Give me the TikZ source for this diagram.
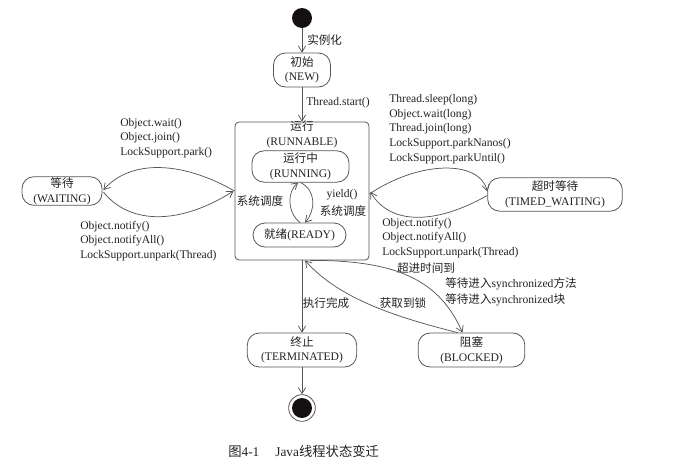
\documentclass[tikz,border=0pt]{standalone}
\usepackage{fontspec}
\setmainfont{Liberation Serif}
\newfontfamily\cjk{Noto Sans CJK SC}
\usetikzlibrary{arrows.meta,calc}
\newcommand\myfs{\fontsize{8.7}{11}\selectfont}
\definecolor{linec}{HTML}{555555}
\definecolor{textc}{HTML}{222222}
\definecolor{fillc}{HTML}{151010}
\tikzset{
  st/.style={draw=linec, line width=0.6pt, rounded corners=9pt, align=center, inner sep=0pt, font=\myfs, text=textc},
  arr/.style={draw=linec, line width=0.55pt, -{Straight Barb[length=4.5pt,width=5.5pt]}},
  lbl/.style={font=\myfs, text=textc, inner sep=0pt},
  lblb/.style={font=\myfs, text=textc, inner sep=0pt, align=left},
}
\begin{document}
\begin{tikzpicture}[x=0.75pt,y=-0.75pt]
\useasboundingbox (0,0) rectangle (675,468);
% start
\node (start) [circle, fill=fillc, minimum size=15pt, inner sep=0pt] at (302,18) {};
% states
\node (new) [st, minimum width=42.75pt, minimum height=25.5pt] at (302,70) {{\cjk 初始}\\(NEW)};
\node (runnable) [draw=linec, line width=0.6pt, rounded corners=3pt, minimum width=100.5pt, minimum height=103.5pt, inner sep=0pt] at (302,191) {};
\node (runlbl) [lblb, align=center] at (302,134.5) {{\cjk 运行}\\(RUNNABLE)};
\node (running) [st, minimum width=72.75pt, minimum height=23.5pt] at (300.5,166.5) {{\cjk 运行中}\\(RUNNING)};
\node (ready) [st, minimum width=69.75pt, minimum height=18pt] at (299.5,235) {{\cjk 就绪}(READY)};
\node (waiting) [st, minimum width=60pt, minimum height=21.5pt] at (62,191) {{\cjk 等待}\\(WAITING)};
\node (timed) [st, minimum width=101pt, minimum height=25pt] at (555,194.5) {{\cjk 超时等待}\\(TIMED\_WAITING)};
\node (term) [st, minimum width=82pt, minimum height=25.5pt] at (302,350) {{\cjk 终止}\\(TERMINATED)};
\node (blocked) [st, minimum width=80pt, minimum height=25.5pt] at (471.5,350) {{\cjk 阻塞}\\(BLOCKED)};
% end
\node (end) [circle, draw=linec, line width=0.6pt, minimum size=20pt, inner sep=0pt] at (302,408) {};
\node (endin) [circle, fill=fillc, minimum size=15pt, inner sep=0pt] at (end) {};

% connectors
\draw[arr] (start) -- (new);
\node[lbl, anchor=west] (l1) at (307,40) {\cjk 实例化};
\draw[arr] (new) -- (runnable);
\node[lbl, anchor=west] (l2) at (306,103) {Thread.start()};

% loop inside runnable
\draw[arr] ($(ready.north)+(0.5,0)$) .. controls (287,212) and (287,192) .. ($(running.south)+(-2.5,0)$);
\draw[arr] ($(running.south)+(0,0)$) .. controls (316,190) and (316,210) .. ($(ready.north)+(5.5,0)$);
\node[lbl] (l3) at (260,201) {\cjk 系统调度};
\node[lbl] (l4) at (342,195) {yield()};
\node[lbl] (l5) at (343,211) {\cjk 系统调度};

% waiting
\draw[arr] (runnable.west) .. controls (180,160) and (130,160) .. ($(waiting.east)+(1,-1)$);
\draw[arr] ($(waiting.east)+(1,1)$) .. controls (130,225) and (180,225) .. ($(runnable.west)+(-1,0)$);
\node[lblb, anchor=west] (l6) at (120,138) {Object.wait()\\Object.join()\\LockSupport.park()};
\node[lblb, anchor=west] (l7) at (80,241) {Object.notify()\\Object.notifyAll()\\LockSupport.unpark(Thread)};

% timed waiting
\draw[arr] ($(runnable.east)+(0,3)$) .. controls (420,160) and (480,160) .. ($(timed.west)+(0,-3)$);
\draw[arr] ($(timed.west)+(0,1)$) .. controls (435,225) and (390,225) .. ($(runnable.east)+(1,1)$);
\node[lblb, anchor=west] (l8) at (389,129) {Thread.sleep(long)\\Object.wait(long)\\Thread.join(long)\\LockSupport.parkNanos()\\LockSupport.parkUntil()};
\node[lblb, anchor=west] (l9) at (382,238) {Object.notify()\\Object.notifyAll()\\LockSupport.unpark(Thread)};
\node[lbl] (l10) at (426,268) {\cjk 超进时间到};

% terminated
\draw[arr] (runnable) -- (term);
\node[lbl] (l11) at (326,303) {\cjk 执行完成};
\draw[arr] (term) -- (end);

% blocked
\draw[arr] ($(runnable.south)+(8,0)$) .. controls (400,260) and (440,282) .. ($(blocked.north)+(-9,0)$);
\draw[arr] ($(blocked.north)+(-14,0)$) .. controls (400,318) and (340,300) .. ($(runnable.south)+(3,0)$);
\node[lbl, anchor=west] (l12) at (445,284) {{\cjk 等待进入}synchronized{\cjk 方法}};
\node[lbl, anchor=west] (l13) at (445,300) {{\cjk 等待进入}synchronized{\cjk 块}};
\node[lbl] (l14) at (403,303) {\cjk 获取到锁};

% caption
\node[lbl, anchor=west, font=\fontsize{10}{12}\selectfont] (cap) at (228,451) {{\cjk 图}4-1\hspace{1.2em}Java{\cjk 线程状态变迁}};
\end{tikzpicture}
\end{document}
